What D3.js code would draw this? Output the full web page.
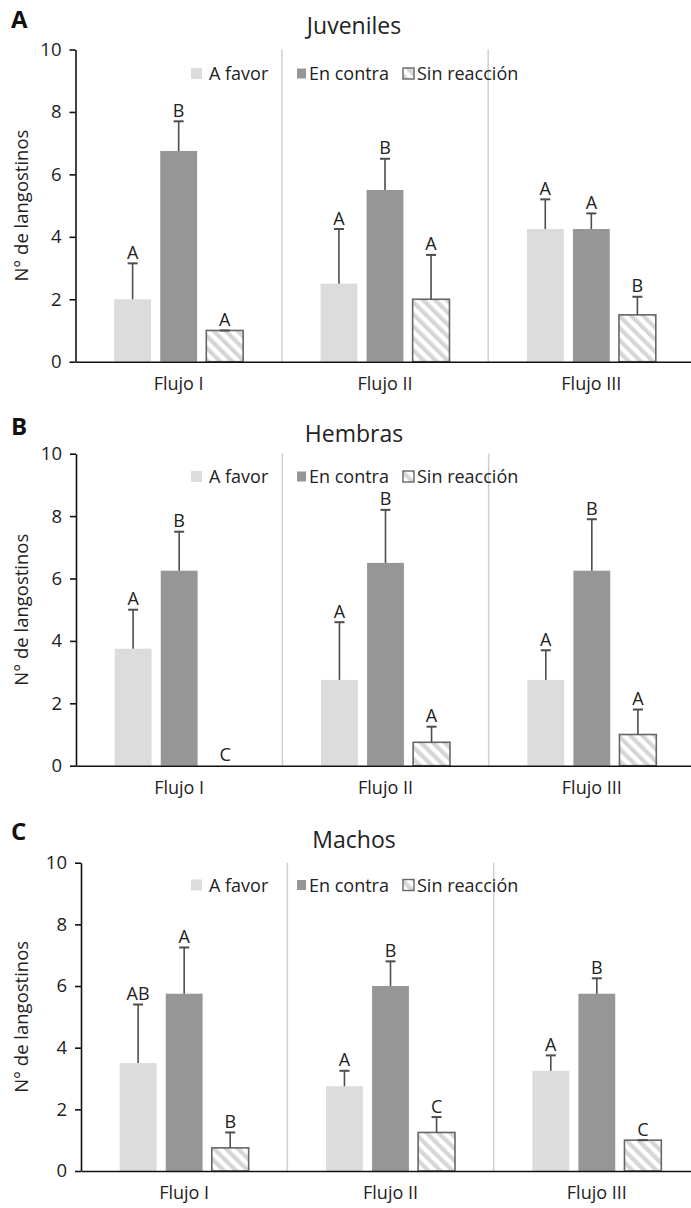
<!DOCTYPE html>
<html>
<head>
<meta charset="utf-8">
<script src="https://cdn.jsdelivr.net/npm/d3@7"></script>
<style>
body { margin: 0; background: #fff; }
svg { display: block; font-family: "Open Sans", sans-serif; }
</style>
</head>
<body>
<div class="render"></div>
<script>
// categorias
var flujos = ["Flujo I", "Flujo II", "Flujo III"];
var respuestas = ["A favor", "En contra", "Sin reacción"];
var y_ticks = [0, 2, 4, 6, 8, 10];

var paneles = ["A", "B", "C"];
var titulos = ["Juveniles", "Hembras", "Machos"];

// medias por flujo: [A favor, En contra, Sin reacción]
var juveniles_media = [[2.0, 6.75, 1.0], [2.5, 5.5, 2.0], [4.25, 4.25, 1.5]];
var juveniles_error = [[1.15, 0.95, 0], [1.75, 1.0, 1.42], [0.95, 0.5, 0.58]];
var juveniles_letras = [["A", "B", "A"], ["A", "B", "A"], ["A", "A", "B"]];

var hembras_media = [[3.75, 6.25, 0], [2.75, 6.5, 0.75], [2.75, 6.25, 1.0]];
var hembras_error = [[1.25, 1.25, 0], [1.85, 1.7, 0.5], [0.95, 1.65, 0.8]];
var hembras_letras = [["A", "B", "C"], ["A", "B", "A"], ["A", "B", "A"]];

var machos_media = [[3.5, 5.75, 0.75], [2.75, 6.0, 1.25], [3.25, 5.75, 1.0]];
var machos_error = [[1.9, 1.5, 0.5], [0.5, 0.8, 0.5], [0.5, 0.5, 0]];
var machos_letras = [["AB", "A", "B"], ["A", "B", "C"], ["A", "B", "C"]];

var medias = [juveniles_media, hembras_media, machos_media];
var errores = [juveniles_error, hembras_error, machos_error];
var letras = [juveniles_letras, hembras_letras, machos_letras];

// posiciones de cada panel (px)
var layout = [
    {left: 75.5, top: 49.5, bottom: 361.7, titleY: 34, letterY: 28, legendY: 73.5},
    {left: 76, top: 453.7, bottom: 765.7, titleY: 442, letterY: 435, legendY: 476.5},
    {left: 81, top: 862.7, bottom: 1171, titleY: 848, letterY: 840, legendY: 885}
];
var plot_width = 619;
var legend_x = [191, 297, 403];
var legend_text_x = [209, 309, 417];

var colores = {"A favor": "#dcdcdc", "En contra": "#969696", "Sin reacción": "url(#rayas)"};

var svg = d3.select(".render").append("svg")
    .attr("width", 691)
    .attr("height", 1208);

svg.append("rect").attr("width", 691).attr("height", 1208).attr("fill", "#fff");

var pat = svg.append("defs").append("pattern")
    .attr("id", "rayas")
    .attr("patternUnits", "userSpaceOnUse")
    .attr("width", 8.5)
    .attr("height", 8.5)
    .attr("patternTransform", "rotate(-45)");
pat.append("rect").attr("width", 8.5).attr("height", 8.5).attr("fill", "#fff");
pat.append("rect").attr("width", 4.2).attr("height", 8.5).attr("fill", "#d6d6d6");

function draw_panel(i) {
    var L = layout[i];
    var g = svg.append("g").attr("class", "panel");

    var x0 = d3.scaleBand().domain(flujos).range([L.left, L.left + plot_width]);
    var x1 = d3.scaleBand().domain(respuestas).range([0, x0.bandwidth()])
        .paddingInner(0.2).paddingOuter(0.84);
    var y = d3.scaleLinear().domain([0, 10]).range([L.bottom, L.top]);

    var rows = [];
    flujos.forEach(function (f, fi) {
        respuestas.forEach(function (r, ri) {
            rows.push({flujo: f, resp: r, media: medias[i][fi][ri],
                       error: errores[i][fi][ri], letra: letras[i][fi][ri]});
        });
    });

    // separadores entre flujos
    g.selectAll(".sep").data(flujos.slice(1)).enter().append("line")
        .attr("x1", function (d) { return x0(d); })
        .attr("x2", function (d) { return x0(d); })
        .attr("y1", y(10))
        .attr("y2", y(0))
        .attr("stroke", "#cfcfcf")
        .attr("stroke-width", 1.5);

    // barras
    g.selectAll(".bar").data(rows.filter(function (d) { return d.media > 0; })).enter().append("rect")
        .attr("x", function (d) { return x0(d.flujo) + x1(d.resp); })
        .attr("y", function (d) { return y(d.media); })
        .attr("width", x1.bandwidth())
        .attr("height", function (d) { return y(0) - y(d.media); })
        .attr("fill", function (d) { return colores[d.resp]; })
        .attr("stroke", function (d) { return d.resp == "Sin reacción" ? "#666" : "none"; })
        .attr("stroke-width", 1.6);

    // barras de error
    var eb = g.selectAll(".err").data(rows.filter(function (d) { return d.media > 0; })).enter().append("g");
    eb.append("line")
        .attr("x1", function (d) { return x0(d.flujo) + x1(d.resp) + x1.bandwidth() / 2; })
        .attr("x2", function (d) { return x0(d.flujo) + x1(d.resp) + x1.bandwidth() / 2; })
        .attr("y1", function (d) { return y(d.media); })
        .attr("y2", function (d) { return y(d.media + d.error); })
        .attr("stroke", "#4d4d4d")
        .attr("stroke-width", 1.6);
    eb.append("line")
        .attr("x1", function (d) { return x0(d.flujo) + x1(d.resp) + x1.bandwidth() / 2 - 5; })
        .attr("x2", function (d) { return x0(d.flujo) + x1(d.resp) + x1.bandwidth() / 2 + 5; })
        .attr("y1", function (d) { return y(d.media + d.error); })
        .attr("y2", function (d) { return y(d.media + d.error); })
        .attr("stroke", "#4d4d4d")
        .attr("stroke-width", 2);

    // letras de significancia
    g.selectAll(".letra").data(rows).enter().append("text")
        .attr("x", function (d) { return x0(d.flujo) + x1(d.resp) + x1.bandwidth() / 2; })
        .attr("y", function (d) { return y(d.media + d.error) - 4.5; })
        .attr("text-anchor", "middle")
        .attr("font-size", 18)
        .attr("fill", "#222")
        .text(function (d) { return d.letra; });

    // ejes
    var ya = g.append("g")
        .attr("transform", "translate(" + L.left + ",0)")
        .call(d3.axisLeft(y).tickValues(y_ticks).tickSize(6).tickSizeOuter(0).tickPadding(8));
    ya.attr("font-family", null).attr("font-size", 18.5);
    ya.selectAll("path, line").attr("stroke", "#111").attr("stroke-width", 1.6);
    ya.selectAll("text").attr("fill", "#222");

    var xa = g.append("g")
        .attr("transform", "translate(0," + L.bottom + ")")
        .call(d3.axisBottom(x0).tickSize(0).tickSizeOuter(0));
    xa.attr("font-family", null).attr("font-size", 18);
    xa.select("path").attr("stroke", "#111").attr("stroke-width", 1.6);
    xa.selectAll("text").attr("fill", "#222").attr("dy", null).attr("y", 28);

    g.append("text")
        .attr("transform", "translate(28," + (L.top + L.bottom) / 2 + ") rotate(-90)")
        .attr("text-anchor", "middle")
        .attr("font-size", 18.5)
        .attr("fill", "#222")
        .text("N° de langostinos");

    // leyenda
    var lg = g.selectAll(".leg").data(respuestas).enter().append("g");
    lg.append("rect")
        .attr("x", function (d, k) { return legend_x[k]; })
        .attr("y", function (d, k) { return L.legendY - (k == 1 ? 5 : 5.5); })
        .attr("width", function (d, k) { return k == 1 ? 9 : 11; })
        .attr("height", function (d, k) { return k == 1 ? 10 : 11; })
        .attr("fill", function (d) { return colores[d]; })
        .attr("stroke", function (d) { return d == "Sin reacción" ? "#666" : "none"; })
        .attr("stroke-width", 1.4);
    lg.append("text")
        .attr("x", function (d, k) { return legend_text_x[k]; })
        .attr("y", L.legendY + 6.5)
        .attr("font-size", 18)
        .attr("fill", "#222")
        .text(function (d) { return d; });

    // titulo y letra del panel
    g.append("text")
        .attr("x", 354)
        .attr("y", L.titleY)
        .attr("text-anchor", "middle")
        .attr("font-size", 23)
        .attr("fill", "#222")
        .text(titulos[i]);
    g.append("text")
        .attr("x", 11)
        .attr("y", L.letterY)
        .attr("font-size", 24)
        .attr("font-weight", "bold")
        .attr("fill", "#111")
        .text(paneles[i]);
}

paneles.forEach(function (p, i) { draw_panel(i); });
</script>
</body>
</html>
